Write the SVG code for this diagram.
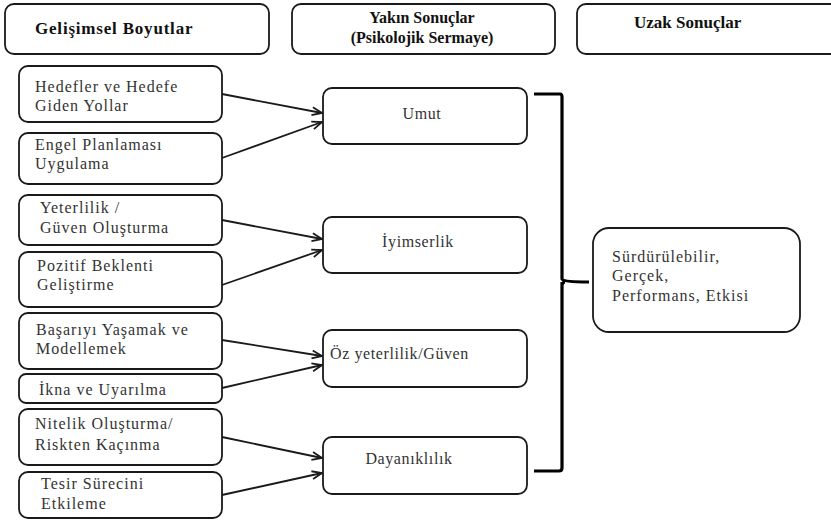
<svg xmlns="http://www.w3.org/2000/svg" width="831" height="524" viewBox="0 0 831 524">
<style>
.box{fill:#fff;stroke:#1a1a1a;stroke-width:1.8}
.h{font-family:'Liberation Serif','Times New Roman','DejaVu Serif',serif;font-weight:bold;font-size:16px;fill:#111}
.t{font-family:'Liberation Serif','Times New Roman','DejaVu Serif',serif;font-size:16px;fill:#333;letter-spacing:1px}
.m{font-family:'Liberation Serif','Times New Roman','DejaVu Serif',serif;font-size:16px;fill:#333;letter-spacing:0.6px}
.c{stroke:#1a1a1a;stroke-width:1.8;fill:none}
.br{stroke:#000;stroke-width:3.2;fill:none}
</style>
<defs>
<marker id="ah" viewBox="0 0 12 10" refX="11" refY="5" markerWidth="12" markerHeight="10" markerUnits="userSpaceOnUse" orient="auto">
<path d="M1,1 L11,5 L1,9" fill="none" stroke="#1a1a1a" stroke-width="1.8"/>
</marker>
</defs>
<g id="hdr1"><rect class="box" x="5" y="4" width="264" height="50" rx="9"/><text class="h" x="35" y="34" style="font-size:17px;letter-spacing:0.8px">Gelişimsel Boyutlar</text></g>
<g id="hdr2"><rect class="box" x="292" y="4" width="263" height="50" rx="9"/><text class="h" x="422" y="23" text-anchor="middle">Yakın Sonuçlar</text><text class="h" x="422" y="43" text-anchor="middle">(Psikolojik Sermaye)</text></g>
<g id="hdr3"><rect class="box" x="577" y="4" width="270" height="50" rx="9"/><text class="h" x="634" y="28" style="font-size:17px">Uzak Sonuçlar</text></g>

<g id="n1"><rect class="box" x="19" y="66" width="203" height="56" rx="9"/><text class="t" x="35" y="92">Hedefler ve Hedefe</text><text class="t" x="35" y="111">Giden Yollar</text></g>
<g id="n2"><rect class="box" x="19" y="133" width="203" height="51" rx="9"/><text class="t" x="35" y="150">Engel Planlaması</text><text class="t" x="35" y="169">Uygulama</text></g>
<g id="n3"><rect class="box" x="19" y="195" width="203" height="50" rx="9"/><text class="t" x="40" y="213">Yeterlilik /</text><text class="t" x="40" y="233">Güven Oluşturma</text></g>
<g id="n4"><rect class="box" x="19" y="252" width="203" height="55" rx="9"/><text class="t" x="37" y="271">Pozitif Beklenti</text><text class="t" x="37" y="290">Geliştirme</text></g>
<g id="n5"><rect class="box" x="19" y="313" width="203" height="56" rx="9"/><text class="t" x="36" y="335">Başarıyı Yaşamak ve</text><text class="t" x="36" y="354">Modellemek</text></g>
<g id="n6"><rect class="box" x="19" y="374" width="203" height="29" rx="7"/><text class="t" x="39" y="395">İkna ve Uyarılma</text></g>
<g id="n7"><rect class="box" x="19" y="409" width="203" height="56" rx="9"/><text class="t" x="35" y="429">Nitelik Oluşturma/</text><text class="t" x="35" y="450">Riskten Kaçınma</text></g>
<g id="n8"><rect class="box" x="19" y="472" width="203" height="46" rx="9"/><text class="t" x="41" y="489">Tesir Sürecini</text><text class="t" x="41" y="509">Etkileme</text></g>

<g id="umut"><rect class="box" x="323" y="88" width="204" height="56" rx="9"/><text class="m" x="422" y="119" text-anchor="middle">Umut</text></g>
<g id="iyimserlik"><rect class="box" x="323" y="217" width="204" height="56" rx="9"/><text class="m" x="418" y="247" text-anchor="middle">İyimserlik</text></g>
<g id="oz"><rect class="box" x="323" y="330" width="204" height="57" rx="9"/><text class="m" x="330" y="359">Öz yeterlilik/Güven</text></g>
<g id="dayaniklilik"><rect class="box" x="323" y="437" width="204" height="57" rx="9"/><text class="m" x="409" y="464" text-anchor="middle">Dayanıklılık</text></g>

<g id="uzak"><rect class="box" x="593" y="228" width="207" height="104" rx="16"/><text class="t" x="612" y="262">Sürdürülebilir,</text><text class="t" x="612" y="281">Gerçek,</text><text class="t" x="612" y="301">Performans,  Etkisi</text></g>

<g id="connectors">
<line class="c" x1="222" y1="94" x2="322" y2="113" marker-end="url(#ah)"/>
<line class="c" x1="222" y1="158" x2="322" y2="122" marker-end="url(#ah)"/>
<line class="c" x1="222" y1="220" x2="322" y2="239" marker-end="url(#ah)"/>
<line class="c" x1="222" y1="285" x2="322" y2="250" marker-end="url(#ah)"/>
<line class="c" x1="222" y1="340" x2="322" y2="356" marker-end="url(#ah)"/>
<line class="c" x1="222" y1="388" x2="322" y2="365" marker-end="url(#ah)"/>
<line class="c" x1="222" y1="437" x2="322" y2="458" marker-end="url(#ah)"/>
<line class="c" x1="222" y1="495" x2="322" y2="473" marker-end="url(#ah)"/>
<path class="br" d="M534,94 L560,94 Q562,94 562,97 L562,279 Q563,282 589,282 M562,285 Q563,282 565,282 M562,282 L562,468 Q562,471 559,471 L534,471"/>
</g>
</svg>
